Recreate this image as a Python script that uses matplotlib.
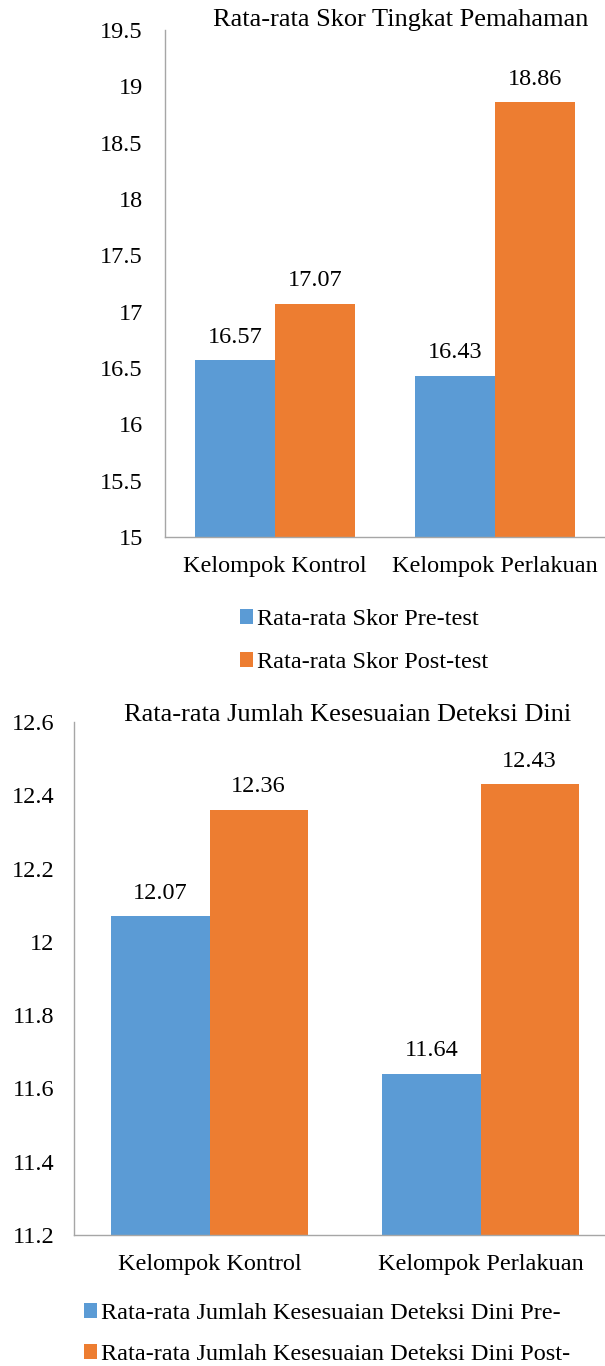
import matplotlib
matplotlib.use("Agg")
import matplotlib.pyplot as plt
import numpy as np

# Data
CATEGORIES = ["Kelompok Kontrol", "Kelompok Perlakuan"]

SKOR_PRE = [16.57, 16.43]
SKOR_POST = [17.07, 18.86]
SKOR_LABELS = ["Rata-rata Skor Pre-test", "Rata-rata Skor Post-test"]
SKOR_TITLE = "Rata-rata Skor Tingkat Pemahaman"
SKOR_TICKS = [15, 15.5, 16, 16.5, 17, 17.5, 18, 18.5, 19, 19.5]

DETEKSI_PRE = [12.07, 11.64]
DETEKSI_POST = [12.36, 12.43]
DETEKSI_LABELS = ["Rata-rata Jumlah Kesesuaian Deteksi Dini Pre-",
                  "Rata-rata Jumlah Kesesuaian Deteksi Dini Post-"]
DETEKSI_TITLE = "Rata-rata Jumlah Kesesuaian Deteksi Dini"
DETEKSI_TICKS = [11.2, 11.4, 11.6, 11.8, 12, 12.2, 12.4, 12.6]

BLUE = "#5B9BD5"
ORANGE = "#ED7D31"
AXIS_GRAY = "#A6A6A6"
FS = 17.5
TITLE_FS = 19

plt.rcParams["font.family"] = ["Liberation Serif", "DejaVu Serif"]

W, H = 605, 1366
fig = plt.figure(figsize=(W / 100, H / 100), dpi=100)


def px_box(left, right, top, bottom):
    """Axes rect in figure fractions from pixel edges."""
    return [left / W, 1 - bottom / H, (right - left) / W, (bottom - top) / H]


def draw_panel(ax, pre, post, ticks, tick_pad, bar_w):
    x = np.arange(len(CATEGORIES))
    b1 = ax.bar(x - bar_w / 2, pre, bar_w, color=BLUE, zorder=2)
    b2 = ax.bar(x + bar_w / 2, post, bar_w, color=ORANGE, zorder=2)
    for bars in (b1, b2):
        for rect in bars:
            ax.annotate(f"{rect.get_height():.2f}",
                        (rect.get_x() + rect.get_width() / 2, rect.get_height()),
                        xytext=(0, 9), textcoords="offset points",
                        ha="center", va="bottom", fontsize=FS)
    ax.set_xlim(-0.5, len(CATEGORIES) - 0.5)
    ax.set_ylim(ticks[0], ticks[-1])
    ax.set_yticks(ticks)
    ax.set_yticklabels([f"{t:g}" for t in ticks])
    ax.set_xticks(x)
    ax.set_xticklabels(CATEGORIES)
    ax.tick_params(axis="y", length=0, pad=tick_pad, labelsize=FS)
    ax.tick_params(axis="x", length=0, pad=14, labelsize=FS)
    for side in ("top", "right"):
        ax.spines[side].set_visible(False)
    for side in ("left", "bottom"):
        ax.spines[side].set_color(AXIS_GRAY)
        ax.spines[side].set_linewidth(1.0)
    return b1, b2


# Top chart
ax1 = fig.add_axes(px_box(165, 605, 30, 537))
h1, h2 = draw_panel(ax1, SKOR_PRE, SKOR_POST, SKOR_TICKS, 16, 0.364)
fig.text(401 / W, 1 - 20 / H, SKOR_TITLE, ha="center", va="center", fontsize=TITLE_FS)
fig.legend([h1, h2], SKOR_LABELS, loc="upper left",
           bbox_to_anchor=(240 / W, 1 - 609 / H), frameon=False, fontsize=FS,
           handlelength=0.55, handleheight=0.55, handletextpad=0.15,
           labelspacing=0.9, borderpad=0, borderaxespad=0)

# Bottom chart
ax2 = fig.add_axes(px_box(74, 616, 722, 1235))
g1, g2 = draw_panel(ax2, DETEKSI_PRE, DETEKSI_POST, DETEKSI_TICKS, 14, 0.362)
fig.text(348 / W, 1 - 715 / H, DETEKSI_TITLE, ha="center", va="center", fontsize=TITLE_FS)
fig.legend([g1, g2], DETEKSI_LABELS, loc="upper left",
           bbox_to_anchor=(84 / W, 1 - 1303 / H), frameon=False, fontsize=FS,
           handlelength=0.55, handleheight=0.55, handletextpad=0.15,
           labelspacing=0.82, borderpad=0, borderaxespad=0)

fig.savefig("out.png", dpi=100)
plt.close(fig)
